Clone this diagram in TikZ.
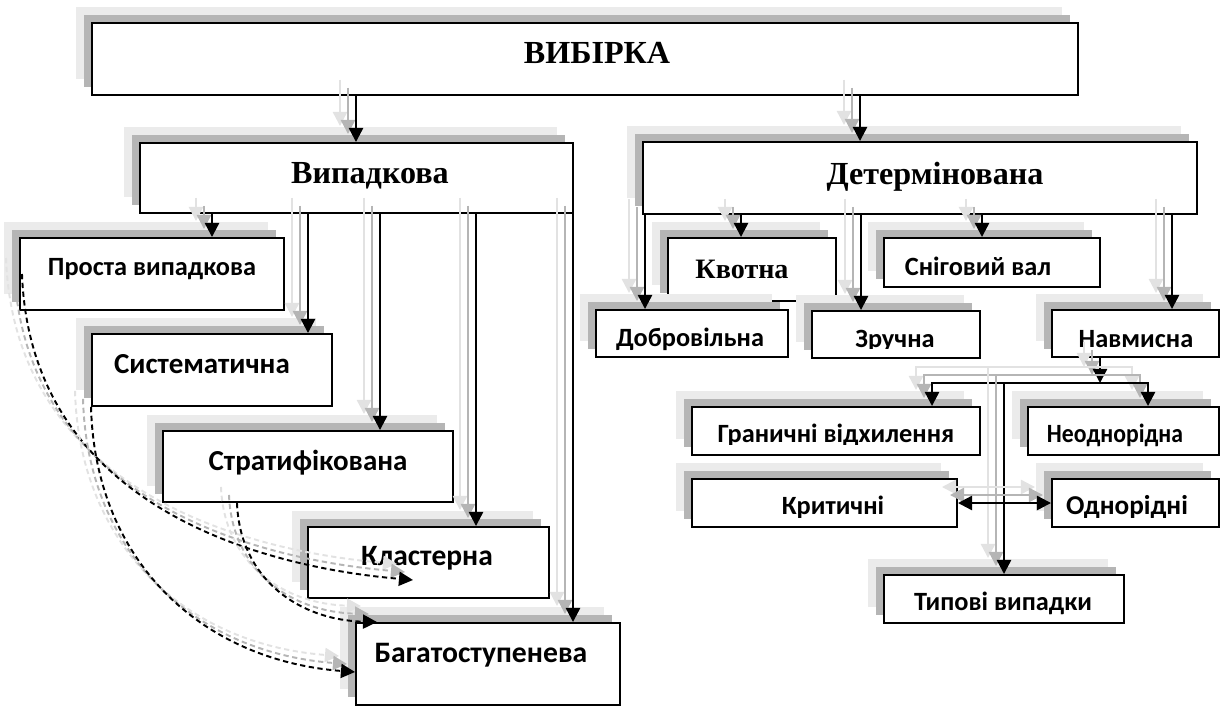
\documentclass[tikz,border=0pt]{standalone}
\usepackage{fontspec}
\setmainfont{Liberation Serif}
\newfontfamily\calibriFont{Carlito}
\usetikzlibrary{arrows.meta,shadows}
\definecolor{shadowDark}{HTML}{B5B5B5}
\definecolor{shadowLight}{HTML}{EBEBEB}
\definecolor{shadowPale}{HTML}{E2E2E2}
%% A box given by its left, top, right and bottom edge (in pixels).
\newcommand{\kindBox}[5]{%%
  \node[boxStyle, minimum width={(#4-#2)*0.02cm}, minimum height={(#5-#3)*0.02cm}]
    (#1) at ({(#2+#4)/2},{(#3+#5)/2}) {};
}
%% The text of a box, put on its baseline.
\newcommand{\kindText}[5]{%%
  \node[#1] (#2-text) at (#3,#4) {#5};
}
%% The text of a box, cut off just under its baseline.
\newcommand{\cutText}[6]{%%
  \begin{scope}
    \clip (#2.north west) rectangle (#2.east |- 0,#5);
    \node[#1] (#2-text) at (#3,#4) {#6};
  \end{scope}
}
%% A vertical connector at the given x.
\newcommand{\downConn}[3]{%%
  \draw[connStyle] (#1.south -| #3,0) -- (#2.north -| #3,0);
}

\begin{document}
\begin{tikzpicture}[%%
  x=0.02cm, y=-0.02cm,
  >={Triangle[length=8pt,width=8pt]},
  boxStyle/.style={draw, line width=1.1pt, fill=white, inner sep=0pt,
    general shadow={shadow xshift=-0.32cm, shadow yshift=0.32cm, fill=shadowLight, draw=none},
    general shadow={shadow xshift=-0.16cm, shadow yshift=0.16cm, fill=shadowDark, draw=none}},%%
  shadowStyle/.style={%%
    preaction={draw, color=shadowPale, #1, transform canvas={shift={(-16,-16)}}},
    preaction={draw, color=shadowDark, #1, transform canvas={shift={(-8,-8)}}}},%%
  connStyle/.style={->, line width=1.3pt, shadowStyle={line width=1.3pt}},%%
  dashStyle/.style={->, line width=1.1pt, dash pattern=on 3pt off 2pt,
    shadowStyle={line width=1.1pt, dash pattern=on 3pt off 2pt}},%%
  serifText/.style={font=\bfseries\fontsize{#1}{#1}\selectfont, anchor=base, inner sep=0pt},%%
  serifText/.default=18.3,
  sansText/.style={font=\calibriFont\bfseries\fontsize{#1}{#1}\selectfont, anchor=base, inner sep=0pt},%%
  sansText/.default=15
]
\useasboundingbox (0,0) rectangle (1227,707);
%%
%% The boxes.
\kindBox{sample}{92}{23}{1078}{95}
\kindBox{random}{140}{143}{573}{213}
\kindBox{determ}{643}{142}{1197}{214}
\kindBox{simple}{20}{238}{284}{310}
\kindBox{system}{92}{334}{332}{406}
\kindBox{strat}{163}{431}{453}{502}
\kindBox{cluster}{308}{527}{549}{598}
\kindBox{multi}{356}{623}{620}{705}
\kindBox{quota}{668}{238}{836}{301}
\kindBox{snow}{884}{238}{1100}{287}
\kindBox{volunt}{596}{310}{788}{357}
\kindBox{conv}{812}{311}{980}{358}
\kindBox{purp}{1052}{310}{1219}{357}
\kindBox{extreme}{692}{407}{980}{455}
\kindBox{hetero}{1028}{407}{1219}{455}
\kindBox{critical}{692}{479}{957}{527}
\kindBox{homo}{1052}{479}{1219}{527}
\kindBox{typical}{884}{575}{1124}{623}
%%
%% The texts.
\kindText{serifText}{sample}{597}{63}{ВИБІРКА}
\kindText{serifText}{random}{370}{183}{Випадкова}
\kindText{serifText}{determ}{935}{184}{Детермінована}
\kindText{sansText}{simple}{152}{275}{Проста випадкова}
\kindText{sansText=16.5}{system}{202}{373}{Систематична}
\kindText{sansText=16.5}{strat}{308}{470}{Стратифікована}
\kindText{sansText=16.8}{cluster}{427}{565}{Кластерна}
\kindText{sansText=16.9}{multi}{481}{662}{Багатоступенева}
\kindText{serifText=16}{quota}{742}{278}{Квотна}
\kindText{sansText}{snow}{978}{275}{Сніговий вал}
\kindText{sansText}{volunt}{690}{346}{Добровільна}
\cutText{sansText}{conv}{895}{347}{348.5}{Зручна}
\kindText{sansText}{purp}{1136}{347}{Навмисна}
\cutText{sansText}{extreme}{836}{442}{444.5}{Граничні відхилення}
\kindText{sansText}{hetero}{1115}{442}{\scalebox{0.9}[1]{Неоднорідна}}
\cutText{sansText}{critical}{833}{514}{517}{Критичні}
\cutText{sansText=15.5}{homo}{1127}{514}{517}{Однорідні}
\kindText{sansText}{typical}{1003}{610}{Типові випадки}
%%
%% The connectors of the tree.
\downConn{sample}{random}{356}
\downConn{sample}{determ}{860}
\downConn{random}{simple}{212}
\downConn{random}{system}{308}
\downConn{random}{strat}{380}
\downConn{random}{cluster}{476}
\downConn{random}{multi}{573}
\downConn{determ}{volunt}{645}
\downConn{determ}{quota}{741}
\downConn{determ}{conv}{861}
\downConn{determ}{snow}{982}
\downConn{determ}{purp}{1172}
%%
%% The bar under the purposive sample.
\coordinate (purp-bar) at (1004,383);
\draw[connStyle] (purp.south -| 1100,0) -- (purp-bar -| 1100,0);
\draw[connStyle] (purp-bar) -| (extreme.north -| 932,0);
\draw[connStyle] (purp-bar) -| (hetero.north -| 1148,0);
\draw[connStyle] (purp-bar) -- (typical.north -| purp-bar);
\draw[connStyle, <->] (critical.east) -- (homo.west);
%%
%% The dashed links.
\coordinate (cluster-in) at (413,580);
\draw[dashStyle] (simple.west -| 22,0) .. controls (30,495) and (240,565) .. (cluster-in);
\draw[dashStyle] (system.south west) .. controls (95,560) and (200,660) .. (multi.west |- 0,672);
\draw[dashStyle] (strat.south -| 237,0) .. controls (240,580) and (300,620) .. (multi.north -| 377,0);
\end{tikzpicture}
\end{document}
